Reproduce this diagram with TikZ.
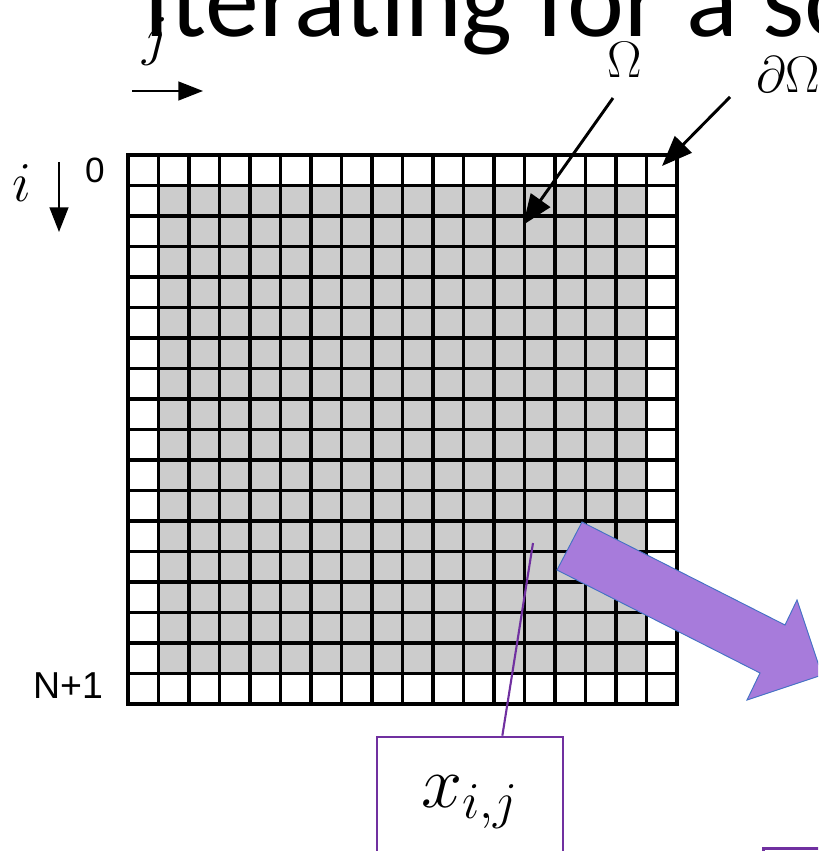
\RequirePackage{fix-cm}
\documentclass[tikz,border=0pt]{standalone}
\usepackage{fontspec}
\newfontfamily\titlefont{Carlito}
\newfontfamily\labelfont{Liberation Sans}
\usetikzlibrary{arrows.meta}
\definecolor{cellgray}{HTML}{CCCCCC}
\definecolor{blockpurple}{HTML}{A77BDB}
\definecolor{blockedge}{HTML}{4472C4}
\definecolor{linkpurple}{HTML}{7030A0}
\begin{document}
\begin{tikzpicture}[x=0.03cm,y=-0.03cm,
  gridline/.style={line width=3pt,line cap=rect},
  bigarrow/.style={line width=2.5pt,-{Triangle[length=26pt,width=20pt]}},
  axisarrow/.style={line width=1.7pt,-{Triangle[length=21pt,width=16pt]}},
  callout/.style={draw=linkpurple,line width=2.2pt}]
  \useasboundingbox (0,0) rectangle (818,851);
  \clip (0,0) rectangle (818,851);
  \node[anchor=base west,inner sep=0pt,font=\titlefont\fontsize{92}{92}\selectfont] (title) at (143,37) {Iterating for a solution};
  % grid of 18 x 18 cells, boundary row/column left white
  \fill[cellgray] (158.5,185.5) rectangle (646.5,673.5);
  \foreach \k in {0,...,18}{
    \draw[gridline] (128+30.5*\k,155) -- (128+30.5*\k,704);
    \draw[gridline] (128,155+30.5*\k) -- (677,155+30.5*\k);
  }
  \node[font=\labelfont\fontsize{30}{30}\selectfont] (first) at (95,170) {0};
  \node[font=\labelfont\fontsize{32}{32}\selectfont] (last) at (68,686) {N+1};
  % index directions
  \node[font=\fontsize{48}{48}\selectfont] (ilab) at (22,183) {$i$};
  \node[font=\fontsize{48}{48}\selectfont] (jlab) at (155,42) {$j$};
  \coordinate (itail) at (59,162);
  \coordinate (ihead) at (59,232);
  \coordinate (jtail) at (132,91);
  \coordinate (jhead) at (203,91);
  \draw[axisarrow] (itail) -- (ihead);
  \draw[axisarrow] (jtail) -- (jhead);
  % domain and boundary
  \node[font=\fontsize{44}{44}\selectfont] (omega) at (625,60) {$\Omega$};
  \node[anchor=west,font=\fontsize{44}{44}\selectfont] (bdry) at (752,75) {$\partial\Omega$};
  \coordinate (omtail) at (613,98);
  \coordinate (omhead) at (523,225);
  \coordinate (bdtail) at (730,97);
  \coordinate (bdhead) at (662,166);
  \draw[bigarrow] (omtail) -- (omhead);
  \draw[bigarrow] (bdtail) -- (bdhead);
  % block arrow
  \draw[fill=blockpurple,draw=blockedge,line width=0.8pt,line join=miter]
    (582,522) -- (785,625) -- (797,600) -- (822,675) -- (747,700) -- (760,673) -- (557,570) -- cycle;
  % one unknown
  \node[callout,minimum width=158.8pt,minimum height=111pt,font=\fontsize{63}{63}\selectfont] (xij) at (470,802) {$x_{i,j}$};
  \node[callout,anchor=north west,minimum width=120pt,minimum height=80pt] (nextbox) at (762,847) {};
  \coordinate (cell) at (533,543);
  \draw[draw=linkpurple,line width=1.8pt] (cell) -- (xij.64.5);
\end{tikzpicture}
\end{document}
